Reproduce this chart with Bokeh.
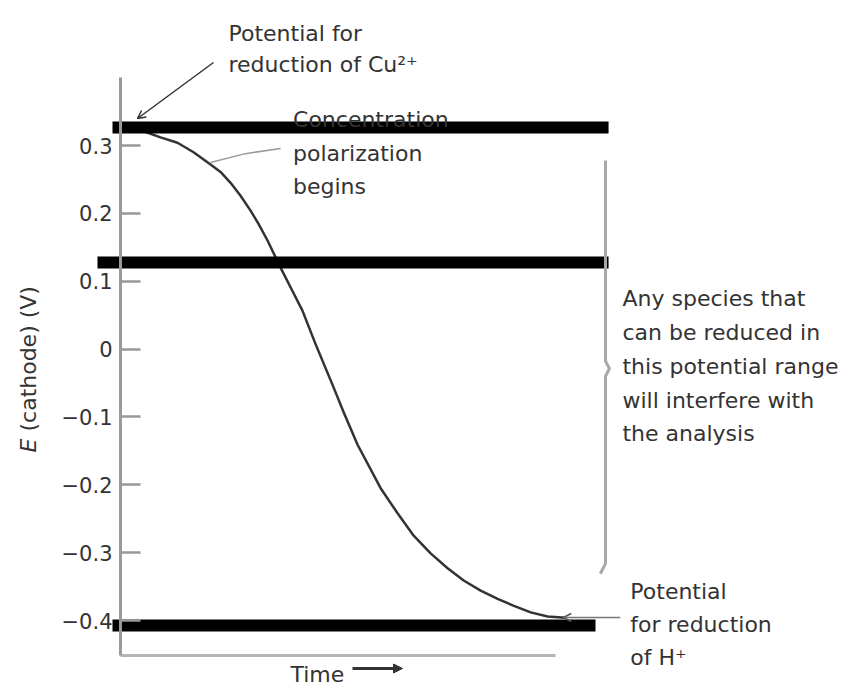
import math
from bokeh.plotting import figure
from bokeh.models import Range1d, LinearAxis, FixedTicker, Arrow, OpenHead, NormalHead
from bokeh.core.properties import value
from bokeh.embed import file_html
from bokeh.resources import INLINE

# ---- data ----
time = [0.05, 0.53, 0.92, 1.31, 1.68, 2.07, 2.30, 2.53, 2.76, 2.99, 3.17, 3.38, 3.68, 3.95,
        4.18, 4.48, 4.87, 5.13, 5.45, 5.98, 6.37, 6.74, 7.13, 7.52, 7.89, 8.28, 8.67,
        9.03, 9.43, 9.82, 10.23]
potential = [0.327, 0.321, 0.312, 0.304, 0.290, 0.272, 0.261, 0.245, 0.226, 0.204, 0.185,
             0.160, 0.120, 0.086, 0.057, 0.008, -0.052, -0.093, -0.141, -0.205, -0.242,
             -0.275, -0.301, -0.323, -0.341, -0.356, -0.368, -0.378, -0.388, -0.394, -0.396]

y_ticks = [-0.4, -0.3, -0.2, -0.1, 0.0, 0.1, 0.2, 0.3]
y_tick_labels = ["\u22120.4", "\u22120.3", "\u22120.2", "\u22120.1", "0", "0.1", "0.2", "0.3"]

bar_level = [0.3265, 0.1276, -0.4073]
bar_start = [-0.184, -0.529, -0.184]
bar_end = [11.22, 11.22, 10.92]

time_axis_end = 10.0
e_axis_bottom = -0.4515
e_axis_top = 0.4002

FONT = value("DejaVu Sans")
TXT = "#333333"

p = figure(width=845, height=688, output_backend="svg", toolbar_location=None,
           x_range=Range1d(-2.7586, 16.667), y_range=Range1d(-0.50018, 0.51368),
           x_axis_type=None, y_axis_type=None, min_border=0)
p.outline_line_color = None
p.background_fill_color = "white"
p.border_fill_color = "white"

yax = LinearAxis(ticker=FixedTicker(ticks=y_ticks), fixed_location=0,
                 bounds=(e_axis_bottom, e_axis_top),
                 major_label_overrides={t: l for t, l in zip(y_ticks, y_tick_labels)},
                 major_tick_in=20, major_tick_out=0, minor_tick_in=0, minor_tick_out=0,
                 axis_line_color="#9a9a9a", axis_line_width=3,
                 major_tick_line_color="#999999", major_tick_line_width=2.5,
                 minor_tick_line_color=None,
                 major_label_text_font="DejaVu Sans", major_label_text_font_size="21px",
                 major_label_text_color="#333333", major_label_standoff=8)
p.add_layout(yax, "left")

xax = LinearAxis(ticker=FixedTicker(ticks=[]), fixed_location=e_axis_bottom,
                 bounds=(0, time_axis_end), axis_line_color="#b5b5b5", axis_line_width=3,
                 major_tick_line_color=None, minor_tick_line_color=None,
                 major_label_text_font_size="0px")
p.add_layout(xax, "below")

# curve
p.line(time, potential, line_color="#333333", line_width=2.5, line_join="round")

# thick horizontal bars
p.segment(x0=bar_start, y0=bar_level, x1=bar_end, y1=bar_level,
          line_color="black", line_width=12)

# leader lines / brace
p.line([2.07, 2.87, 3.68], [0.275, 0.288, 0.2956], line_color="#9a9a9a", line_width=1.5)
p.line([11.15, 11.15, 11.24, 11.15, 11.15, 11.03],
       [0.278, -0.018, -0.0286, -0.040, -0.316, -0.331],
       line_color="#a8a8a8", line_width=3, line_join="round")

p.add_layout(Arrow(end=OpenHead(size=8, line_color="#333333", line_width=1.5),
                   x_start=2.138, y_start=0.4223, x_end=0.391, y_end=0.3398,
                   line_color="#333333", line_width=1.5))
p.add_layout(Arrow(end=OpenHead(size=8, line_color="#555555", line_width=1.5),
                   x_start=11.49, y_start=-0.3956, x_end=10.18, y_end=-0.3956,
                   line_color="#777777", line_width=1.5))
p.add_layout(Arrow(end=NormalHead(size=9, fill_color="#333333", line_color="#333333"),
                   x_start=5.333, y_start=-0.4707, x_end=6.483, y_end=-0.4707,
                   line_color="#333333", line_width=3))

def txt(x, y, lines, **kw):
    p.text(x=x, y=y, text=lines, text_font=FONT, text_font_size=value("22px"),
           text_color=TXT, text_baseline="alphabetic", text_align="left", **kw)

txt([2.483, 2.483], [0.465, 0.4194], ["Potential for", "reduction of Cu\u00b2\u207a"])
txt([3.966] * 3, [0.3383, 0.2882, 0.2396], ["Concentration", "polarization", "begins"])
txt([11.54] * 5, [0.0745, 0.0244, -0.0264, -0.0758, -0.1244],
    ["Any species that", "can be reduced in", "this potential range",
     "will interfere with", "the analysis"])
txt([11.72] * 3, [-0.3572, -0.4059, -0.4545], ["Potential", "for reduction", "of H\u207a"])
txt([3.908], [-0.4796], ["Time"])

# y-axis title (rotated)
p.text(x=[-2.115], y=[-0.1524], text=["E"], angle=math.pi / 2, text_font=FONT,
       text_font_size=value("22px"), text_font_style="italic", text_color=TXT,
       text_baseline="middle", text_align="left")
p.text(x=[-2.115], y=[-0.1215], text=["(cathode) (V)"], angle=math.pi / 2, text_font=FONT,
       text_font_size=value("22px"), text_color=TXT,
       text_baseline="middle", text_align="left")

open("out.html", "w").write(file_html(p, INLINE))
